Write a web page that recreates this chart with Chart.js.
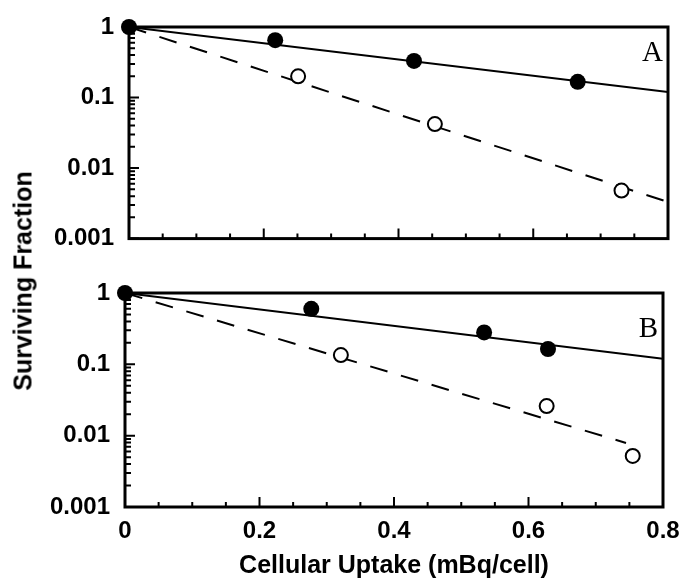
<!DOCTYPE html>
<html>
<head>
<meta charset="utf-8">
<script src="https://cdn.jsdelivr.net/npm/chart.js@4"></script>
<style>
  body { margin: 0; background: #fff; }
  #wrap { position: relative; width: 684px; height: 583px; overflow: hidden; background: #fff; }
  canvas { position: absolute; left: 0; }
  #chartA { top: 0; }
  #chartB { top: 260px; }
  #ylabel {
    position: absolute; left: 23px; top: 281px;
    transform: translate(-50%, -50%) rotate(-90deg);
    font: bold 25px "Liberation Sans", Arial, sans-serif;
    white-space: nowrap; color: #000;
  }
</style>
</head>
<body>
<div id="wrap">
  <canvas id="chartA" width="684" height="260"></canvas>
  <canvas id="chartB" width="684" height="323"></canvas>
  <div id="ylabel">Surviving Fraction</div>
</div>
<script>
// panel A
const uptakeAFilled = [0, 0.217, 0.423, 0.666];
const survivalAFilled = [1, 0.65, 0.33, 0.167];
const uptakeAOpen = [0.251, 0.454, 0.731];
const survivalAOpen = [0.2, 0.042, 0.0048];
const fitAX = [0, 0.8];
const fitASolid = [1, 0.12];
const fitADashed = [1, 0.0033];

// panel B
const uptakeBFilled = [0, 0.277, 0.534, 0.629];
const survivalBFilled = [1, 0.6, 0.28, 0.164];
const uptakeBOpen = [0.321, 0.627, 0.755];
const survivalBOpen = [0.135, 0.026, 0.0052];
const fitBX = [0, 0.8];
const fitBSolid = [1, 0.12];
const fitBDashedX = [0, 0.745];
const fitBDashed = [1, 0.0079];

// axes
const yTicks = [0.001, 0.01, 0.1, 1];
const xMajorTicks = [0, 0.2, 0.4, 0.6, 0.8];
const xMinorTicks = [0.05, 0.1, 0.15, 0.25, 0.3, 0.35, 0.45, 0.5, 0.55, 0.65, 0.7, 0.75];

const pts = (xs, ys) => xs.map((x, i) => ({x: x, y: ys[i]}));

const frameTicks = {
  id: 'frameTicks',
  beforeDatasetsDraw(chart) {
    const {ctx, chartArea: a, scales: {x, y}} = chart;
    ctx.save();
    ctx.strokeStyle = '#000';
    ctx.lineWidth = 2;
    ctx.beginPath();
    xMajorTicks.forEach(v => {
      const px = x.getPixelForValue(v);
      ctx.moveTo(px, a.bottom); ctx.lineTo(px, a.bottom - 10);
    });
    xMinorTicks.forEach(v => {
      const px = x.getPixelForValue(v);
      ctx.moveTo(px, a.bottom); ctx.lineTo(px, a.bottom - 5);
    });
    yTicks.forEach(v => {
      const py = y.getPixelForValue(v);
      ctx.moveTo(a.left, py); ctx.lineTo(a.left + 10, py);
      if (v < 1) {
        for (let k = 2; k < 10; k++) {
          const pm = y.getPixelForValue(v * k);
          ctx.moveTo(a.left, pm); ctx.lineTo(a.left + 6, pm);
        }
      }
    });
    ctx.stroke();
    ctx.lineWidth = 3;
    ctx.strokeRect(a.left, a.top, a.right - a.left, a.bottom - a.top);
    ctx.restore();
  },
  afterDraw(chart, args, opts) {
    const {ctx, chartArea: a} = chart;
    ctx.save();
    ctx.fillStyle = '#000';
    ctx.font = '29px "Liberation Serif", "Times New Roman", serif';
    ctx.textAlign = 'right';
    ctx.textBaseline = 'middle';
    ctx.fillText(opts.letter, a.right - 5, a.top + opts.letterDy);
    ctx.restore();
  }
};

function makeChart(id, d, o) {
  return new Chart(document.getElementById(id), {
    type: 'scatter',
    data: {
      datasets: [
        {data: pts(d.fx, d.fy), pointRadius: 8, pointHoverRadius: 8, pointBackgroundColor: '#000', pointBorderColor: '#000', borderWidth: 0, clip: false, order: 0},
        {data: pts(d.ox, d.oy), pointRadius: 7, pointHoverRadius: 7, pointBackgroundColor: '#fff', pointBorderColor: '#000', pointBorderWidth: 2, clip: false, order: 0},
        {data: pts(d.sx, d.sy), showLine: true, borderColor: '#000', borderWidth: 2, pointRadius: 0, order: 1},
        {data: pts(d.dx, d.dy), showLine: true, borderColor: '#000', borderWidth: 2, borderDash: [18, 14], pointRadius: 0, order: 1}
      ]
    },
    options: {
      responsive: false,
      animation: false,
      events: [],
      layout: {padding: {top: o.top, right: o.right, left: 0, bottom: 0}},
      plugins: {
        legend: {display: false},
        tooltip: {enabled: false},
        frameTicks: {letter: o.letter, letterDy: o.letterDy}
      },
      scales: {
        x: {
          type: 'linear', min: 0, max: 0.8,
          grid: {display: false}, border: {display: false},
          afterBuildTicks: s => { s.ticks = xMajorTicks.map(v => ({value: v})); },
          ticks: {
            display: o.xLabels, padding: 2, color: '#000',
            font: {family: '"Liberation Sans", Arial, sans-serif', size: 24, weight: 'bold'},
            maxRotation: 0,
            callback: v => String(v)
          },
          title: {
            display: o.xLabels, text: 'Cellular Uptake (mBq/cell)', color: '#000',
            padding: {top: 0, bottom: 2},
            font: {family: '"Liberation Sans", Arial, sans-serif', size: 25, weight: 'bold'}
          },
          afterFit: s => { s.height = o.xHeight; }
        },
        y: {
          type: 'logarithmic', min: 0.001, max: 1,
          grid: {display: false}, border: {display: false},
          afterBuildTicks: s => { s.ticks = yTicks.map(v => ({value: v})); },
          ticks: {
            padding: 7, color: '#000',
            font: {family: '"Liberation Sans", Arial, sans-serif', size: 24, weight: 'bold'},
            callback: v => String(v)
          },
          afterFit: s => { s.width = o.yWidth; }
        }
      }
    },
    plugins: [frameTicks]
  });
}

makeChart('chartA',
  {fx: uptakeAFilled, fy: survivalAFilled, ox: uptakeAOpen, oy: survivalAOpen,
   sx: fitAX, sy: fitASolid, dx: fitAX, dy: fitADashed},
  {top: 27, right: 16, xHeight: 21, yWidth: 129, xLabels: false, letter: 'A', letterDy: 26});

makeChart('chartB',
  {fx: uptakeBFilled, fy: survivalBFilled, ox: uptakeBOpen, oy: survivalBOpen,
   sx: fitBX, sy: fitBSolid, dx: fitBDashedX, dy: fitBDashed},
  {top: 33, right: 21, xHeight: 76, yWidth: 125, xLabels: true, letter: 'B', letterDy: 36});
</script>
</body>
</html>
